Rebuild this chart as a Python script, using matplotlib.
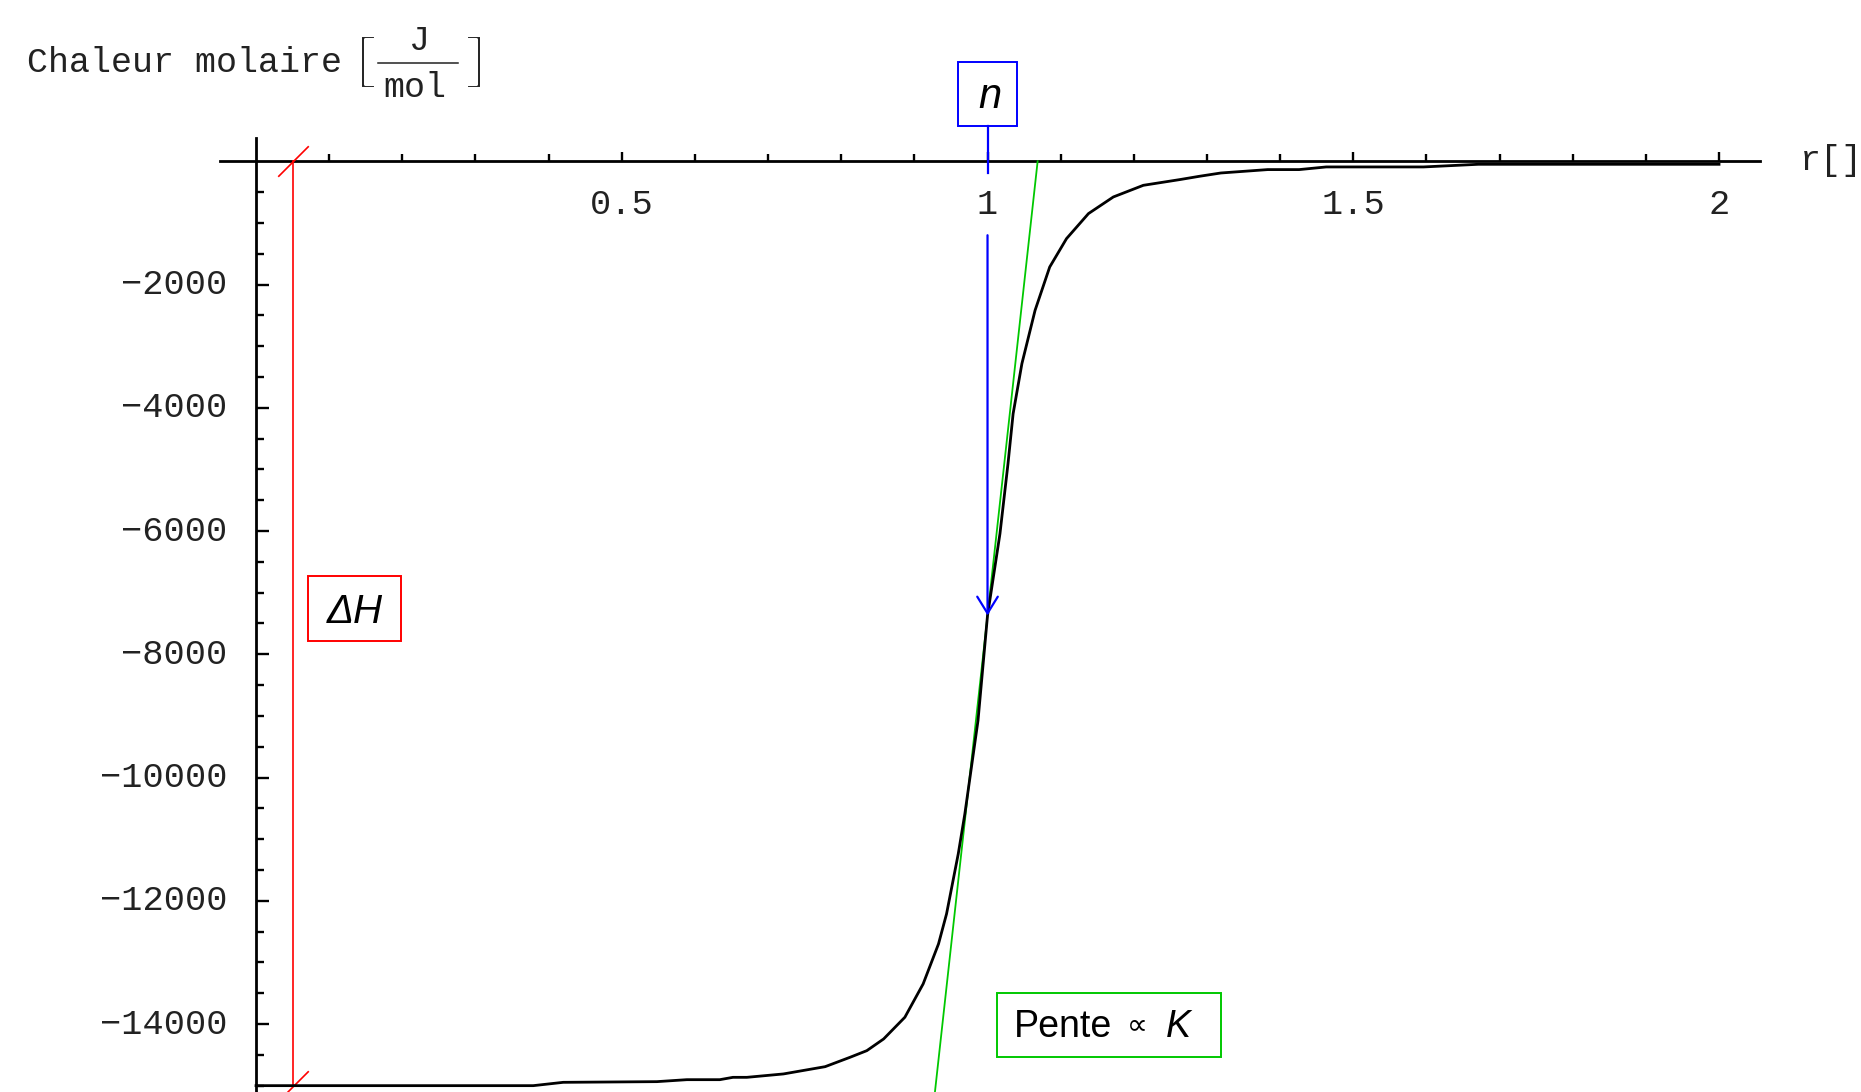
import matplotlib
matplotlib.use("Agg")
import matplotlib.pyplot as plt
import matplotlib.transforms as mtransforms
import matplotlib.patheffects as pe
from matplotlib.patches import Rectangle, FancyArrowPatch
from matplotlib.path import Path

# ---------------- data ----------------
r_values = [0.0, 0.379, 0.420, 0.548, 0.589, 0.634, 0.652, 0.671, 0.721, 0.778,
            0.812, 0.835, 0.858, 0.887, 0.912, 0.933, 0.944, 0.960, 0.969, 0.987,
            1.000, 1.017, 1.028, 1.035, 1.047, 1.065, 1.085, 1.108, 1.138, 1.172,
            1.213, 1.263, 1.290, 1.319, 1.383, 1.426, 1.463, 1.596, 1.671, 2.000]
heat_values = [-15000, -15000, -14946, -14935, -14903, -14903, -14865, -14865, -14810, -14692,
               -14540, -14432, -14242, -13890, -13349, -12700, -12212, -11238, -10590, -9075,
               -7370, -6044, -4907, -4096, -3284, -2419, -1716, -1255, -849, -579,
               -390, -297, -243, -190, -135, -135, -92, -92, -49, -49]

x_major = [0.5, 1.0, 1.5, 2.0]
x_major_labels = ["0.5", "1", "1.5", "2"]
x_minor = [0.1, 0.2, 0.3, 0.4, 0.6, 0.7, 0.8, 0.9, 1.1, 1.2, 1.3, 1.4,
           1.6, 1.7, 1.8, 1.9]
y_major = [-14000, -12000, -10000, -8000, -6000, -4000, -2000]
y_major_labels = ["\u221214000", "\u221212000", "\u221210000", "\u22128000",
                  "\u22126000", "\u22124000", "\u22122000"]
y_minor = [-15000, -14500, -13500, -13000, -12500, -11500, -11000, -10500,
           -9500, -9000, -8500, -7500, -7000, -6500, -5500, -5000, -4500,
           -3500, -3000, -2500, -1500, -1000, -500]

delta_H = -15000          # plateau (enthalpy)
r_deltaH_line = 0.05      # position of the DeltaH marker line
n_equiv = 1.0             # stoichiometry n
tangent_r, tangent_y = 1.0, -7370
tangent_slope = 107570    # J/mol per unit r
arrow_start_y = -1200

# ---------------- figure ----------------
W, H = 1861, 1092
fig = plt.figure(figsize=(W / 100, H / 100), dpi=100)
ax = fig.add_axes([0, 0, 1, 1])
ax.set_xlim(-0.3500, 2.1941)
ax.set_ylim(-15103, 2617)
ax.patch.set_visible(False)

# pixel transform (image coords, y down)
px = mtransforms.Affine2D().scale(1, -1).translate(0, H)

mono = ["Liberation Mono", "DejaVu Sans Mono"]
sans = ["Liberation Sans", "DejaVu Sans"]
txt_col = "#222222"

# axes through origin
for s in ["top", "right"]:
    ax.spines[s].set_visible(False)
ax.spines["bottom"].set_position(("data", 0))
ax.spines["left"].set_position(("data", 0))
ax.spines["bottom"].set_bounds(-0.049, 2.056)
ax.spines["left"].set_bounds(-15103, 370)
ax.spines["bottom"].set_linewidth(2.0)
ax.spines["left"].set_linewidth(2.0)

ax.set_xticks(x_major, x_major_labels)
ax.set_xticks(x_minor, minor=True)
ax.set_yticks(y_major, y_major_labels)
ax.set_yticks(y_minor, minor=True)
ax.tick_params(axis="x", which="major", direction="in", length=6.8, width=1.7,
               pad=19.5, labelsize=25.5, labelcolor=txt_col)
ax.tick_params(axis="x", which="minor", direction="in", length=5.0, width=1.7)
ax.tick_params(axis="y", which="major", direction="in", length=9.4, width=1.7,
               pad=20.4, labelsize=25.5, labelcolor=txt_col)
ax.tick_params(axis="y", which="minor", direction="in", length=6.1, width=1.7)
for lab in ax.get_xticklabels() + ax.get_yticklabels():
    lab.set_family(mono)
for lab in ax.get_yticklabels():
    lab.set_verticalalignment("center")

# curve
ax.plot(r_values, heat_values, color="black", lw=2.0, zorder=4,
        solid_joinstyle="round")

# tangent (green)
y_top, y_bot = 0, -15500
ax.plot([tangent_r + (y_top - tangent_y) / tangent_slope,
         tangent_r + (y_bot - tangent_y) / tangent_slope],
        [y_top, y_bot], color="#00c800", lw=1.3, zorder=3)

# DeltaH line (red) with slash ends
slash = Path([(-1, -1), (1, 1)], [Path.MOVETO, Path.LINETO])
ax.plot([r_deltaH_line, r_deltaH_line], [0, delta_H], color="red", lw=1.2,
        marker=slash, markersize=22, markeredgewidth=1.2, markeredgecolor="red",
        zorder=3)

# n arrow (blue)
arr = FancyArrowPatch((n_equiv, arrow_start_y), (tangent_r, tangent_y),
                      arrowstyle="->,head_length=12,head_width=7.4",
                      mutation_scale=1, shrinkA=0, shrinkB=0,
                      color="blue", lw=1.6, zorder=5)
ax.add_patch(arr)
blend = mtransforms.blended_transform_factory(ax.transData, px)
ax.plot([n_equiv, n_equiv], [126, 173], color="blue", lw=1.6, transform=blend,
        zorder=5)

# boxes
ax.add_patch(Rectangle((958.3, 61.7), 59, 64.3, transform=px, fill=False,
                       ec="blue", lw=1.4))
ax.text(989.7, 108.3, "n", transform=px, family=sans, style="italic",
        fontsize=30, ha="center", va="baseline")

ax.add_patch(Rectangle((308.3, 575.7), 92.4, 65, transform=px, fill=False,
                       ec="red", lw=1.4))
ax.text(354.5, 622.7, "\u0394H", transform=px, family=sans, style="italic",
        fontsize=29, ha="center", va="baseline")

ax.add_patch(Rectangle((996.7, 992.7), 224, 64, transform=px, fill=False,
                       ec="#00c800", lw=1.4))
ax.text(1014, 1036.7, "Pente", transform=px, family=sans, fontsize=27,
        ha="left", va="baseline")
ax.text(1137.5, 1025, "\u221d", transform=px, family=["DejaVu Sans"],
        fontsize=21, ha="center", va="center")
ax.text(1166, 1036.7, "K", transform=px, family=sans, style="italic",
        fontsize=27, ha="left", va="baseline")

# y axis label
thin = [pe.Normal(), pe.Stroke(linewidth=2.2, foreground="white")]
ax.text(27, 72, "Chaleur molaire", transform=px, family=mono, fontsize=25.2,
        color=txt_col, ha="left", va="baseline")
ax.text(365.5, 61, "[", transform=px, family=mono, fontsize=41, color=txt_col,
        ha="center", va="center", path_effects=thin)
ax.text(475.5, 61, "]", transform=px, family=mono, fontsize=41, color=txt_col,
        ha="center", va="center", path_effects=thin)
ax.text(419.6, 50, "J", transform=px, family=mono, fontsize=25.2,
        color=txt_col, ha="center", va="baseline")
ax.text(415, 96.7, "mol", transform=px, family=mono, fontsize=25.2,
        color=txt_col, ha="center", va="baseline")
ax.plot([378, 458], [62.7, 62.7], transform=px, color=txt_col, lw=1.1)

# x axis label
ax.text(1800, 170, "r[]", transform=px, family=mono, fontsize=25.2,
        color=txt_col, ha="left", va="baseline")

fig.savefig("out.png", dpi=100)
